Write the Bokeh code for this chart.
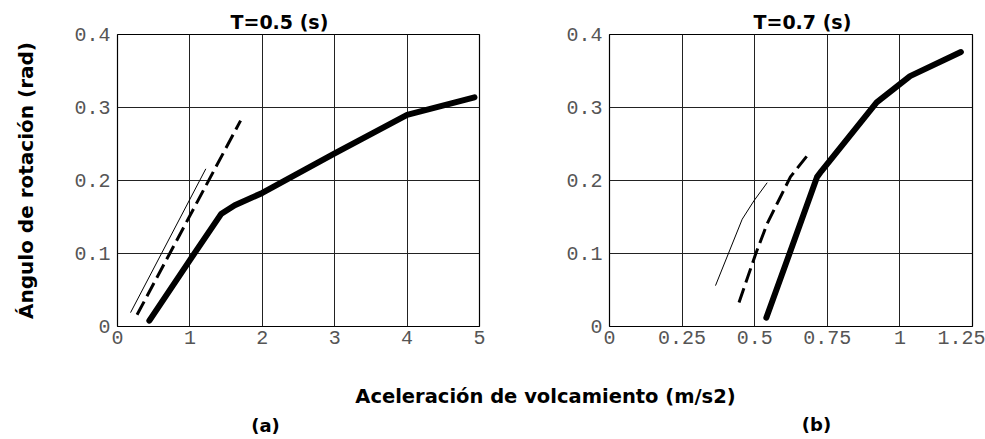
from bokeh.plotting import figure
from bokeh.models import Range1d, FixedTicker, Title, Label
from bokeh.layouts import column, row
from bokeh.embed import file_html
from bokeh.resources import INLINE

# ---------------- data ----------------
y_ticks = [0, 0.1, 0.2, 0.3, 0.4]
y_tick_labels = ["0", "0.1", "0.2", "0.3", "0.4"]

a_x_ticks = [0, 1, 2, 3, 4, 5]
a_x_tick_labels = ["0", "1", "2", "3", "4", "5"]
b_x_ticks = [0, 0.25, 0.5, 0.75, 1.0, 1.25]
b_x_tick_labels = ["0", "0.25", "0.5", "0.75", "1", "1.25"]

# (a) T=0.5 s
a_thick_x = [0.44, 1.0, 1.43, 1.62, 2.0, 3.0, 4.0, 4.93]
a_thick_y = [0.008, 0.091, 0.154, 0.166, 0.183, 0.237, 0.290, 0.314]
a_dash_x = [0.27, 1.70]
a_dash_y = [0.016, 0.282]
a_thin_x = [0.18, 1.22]
a_thin_y = [0.019, 0.216]

# (b) T=0.7 s
b_thick_x = [0.54, 0.62, 0.715, 0.73, 0.92, 1.035, 1.21]
b_thick_y = [0.012, 0.100, 0.205, 0.213, 0.307, 0.343, 0.376]
b_dash_x = [0.446, 0.503, 0.543, 0.583, 0.623, 0.681]
b_dash_y = [0.033, 0.099, 0.141, 0.173, 0.205, 0.234]
b_thin_x = [0.365, 0.457, 0.497, 0.543]
b_thin_y = [0.056, 0.147, 0.172, 0.197]

titles = ["T=0.5 (s)", "T=0.7 (s)"]
y_label = "Ángulo de rotación (rad)"
x_label = "Aceleración de volcamiento (m/s2)"
panel_tags = ["(a)", "(b)"]

TICK_FONT = "Liberation Mono"
BOLD_FONT = "DejaVu Sans"


def make_panel(xmax, xticks, xlabels, title, title_offset, width, mbl, mbr, show_ylabel):
    p = figure(width=width, height=360, output_backend="svg", toolbar_location=None,
               x_range=Range1d(0, xmax), y_range=Range1d(0, 0.4),
               min_border_left=mbl, min_border_right=mbr,
               min_border_top=34, min_border_bottom=34)
    p.title = None
    p.add_layout(Title(text=title, align="left", offset=title_offset,
                       text_font=BOLD_FONT, text_font_size="19px",
                       text_font_style="bold", text_color="black", standoff=4), "above")
    p.outline_line_color = "black"
    p.outline_line_width = 1.2
    p.background_fill_color = "white"
    p.border_fill_color = "white"

    p.xaxis.ticker = FixedTicker(ticks=xticks)
    p.xaxis.major_label_overrides = {t: l for t, l in zip(xticks, xlabels)}
    p.yaxis.ticker = FixedTicker(ticks=y_ticks)
    p.yaxis.major_label_overrides = {t: l for t, l in zip(y_ticks, y_tick_labels)}
    for ax in (p.xaxis, p.yaxis):
        ax.axis_line_color = None
        ax.major_tick_in = 0
        ax.major_tick_out = 0
        ax.minor_tick_line_color = None
        ax.major_label_text_font = TICK_FONT
        ax.major_label_text_font_size = "20px"
        ax.major_label_text_color = "#555555"
    p.xaxis.major_label_standoff = 4
    p.yaxis.major_label_standoff = 7
    if show_ylabel:
        p.yaxis.axis_label = y_label
        p.yaxis.axis_label_text_font = BOLD_FONT
        p.yaxis.axis_label_text_font_size = "20px"
        p.yaxis.axis_label_text_font_style = "bold"
        p.yaxis.axis_label_text_color = "black"
        p.yaxis.axis_label_standoff = 33
    for g in (p.xgrid, p.ygrid):
        g.grid_line_color = "#222222"
        g.grid_line_width = 1
    return p


p1 = make_panel(5, a_x_ticks, a_x_tick_labels, titles[0], 113, 498, 117, 19, True)
p1.line(a_thin_x, a_thin_y, line_color="black", line_width=1)
p1.line(a_dash_x, a_dash_y, line_color="black", line_width=3, line_dash="15 6")
p1.line(a_thick_x, a_thick_y, line_color="black", line_width=6, line_cap="round", line_join="round")

p2 = make_panel(1.25, b_x_ticks, b_x_tick_labels, titles[1], 144, 487, 111, 13, False)
p2.line(b_thin_x, b_thin_y, line_color="black", line_width=1)
p2.line(b_dash_x, b_dash_y, line_color="black", line_width=3, line_dash="15 6")
p2.line(b_thick_x, b_thick_y, line_color="black", line_width=6, line_cap="round", line_join="round")

foot = figure(width=985, height=79, output_backend="svg", toolbar_location=None,
              x_range=Range1d(0, 985), y_range=Range1d(0, 79),
              x_axis_type=None, y_axis_type=None, min_border=0)
foot.outline_line_color = None
foot.xgrid.visible = False
foot.ygrid.visible = False
foot.add_layout(Label(x=545, y=43, text=x_label, text_align="center", text_baseline="middle",
                      text_font=BOLD_FONT, text_font_size="19.5px", text_font_style="bold",
                      text_color="black"))
foot.add_layout(Label(x=265, y=14, text=panel_tags[0], text_align="center", text_baseline="middle",
                      text_font=BOLD_FONT, text_font_size="18px", text_font_style="bold",
                      text_color="black"))
foot.add_layout(Label(x=816, y=15, text=panel_tags[1], text_align="center", text_baseline="middle",
                      text_font=BOLD_FONT, text_font_size="18px", text_font_style="bold",
                      text_color="black"))

layout = column(row(p1, p2), foot, spacing=0)
open("out.html", "w").write(file_html(layout, INLINE))
